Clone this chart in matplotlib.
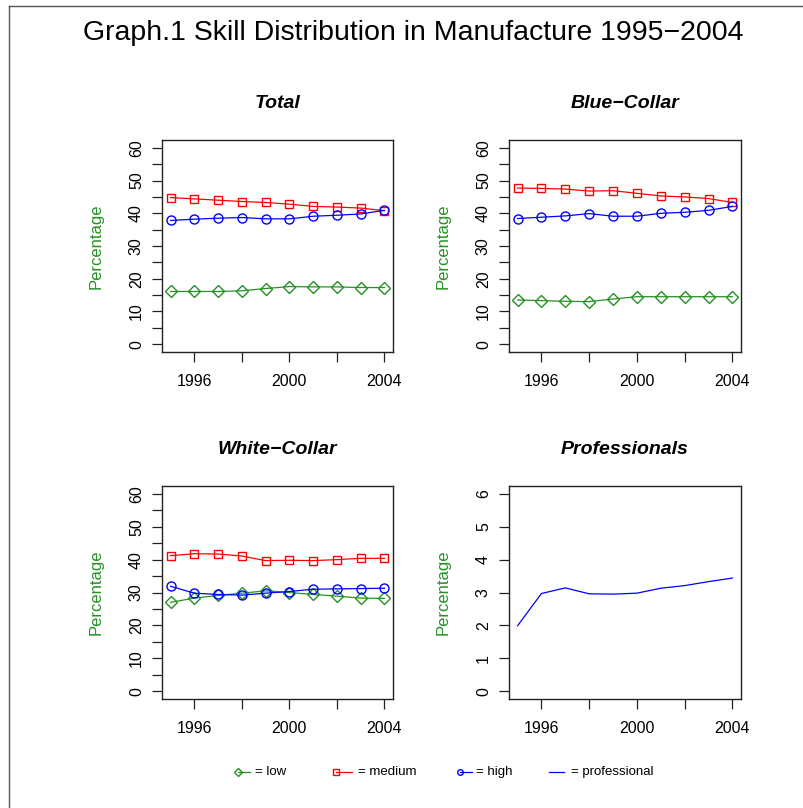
import matplotlib
matplotlib.use("Agg")
import matplotlib.pyplot as plt
from matplotlib.lines import Line2D

plt.rcParams['font.family'] = ['Liberation Sans', 'DejaVu Sans']

years = [1995, 1996, 1997, 1998, 1999, 2000, 2001, 2002, 2003, 2004]

total_low = [16.1, 16.1, 16.1, 16.3, 17.0, 17.6, 17.5, 17.5, 17.3, 17.3]
total_medium = [44.8, 44.4, 44.0, 43.6, 43.3, 42.8, 42.1, 41.9, 41.6, 40.8]
total_high = [37.8, 38.2, 38.5, 38.7, 38.3, 38.3, 39.1, 39.4, 39.8, 40.9]

blue_low = [13.5, 13.3, 13.1, 13.0, 13.8, 14.5, 14.5, 14.5, 14.5, 14.5]
blue_medium = [47.7, 47.6, 47.4, 46.8, 46.9, 46.1, 45.3, 45.0, 44.5, 43.3]
blue_high = [38.4, 38.8, 39.2, 39.9, 39.1, 39.1, 40.0, 40.3, 40.9, 42.1]

white_low = [27.0, 28.3, 29.1, 29.8, 30.5, 30.0, 29.4, 28.9, 28.3, 28.2]
white_medium = [41.2, 41.8, 41.7, 41.1, 39.7, 39.8, 39.7, 40.0, 40.4, 40.4]
white_high = [31.9, 29.8, 29.4, 29.2, 29.8, 30.3, 31.0, 31.1, 31.2, 31.3]

professional = [1.99, 2.97, 3.14, 2.96, 2.95, 2.98, 3.13, 3.21, 3.33, 3.44]

panel_titles = ["Total", "Blue\u2212Collar", "White\u2212Collar", "Professionals"]
title = "Graph.1 Skill Distribution in Manufacture 1995\u22122004"
legend_labels = ["= low", "= medium", "= high", "= professional"]

GREEN = "#259125"
RED = "#FF0000"
BLUE = "#0000FF"

W, H = 804, 808
fig = plt.figure(figsize=(W / 100, H / 100), dpi=100)


def frac_box(left, top, right, bottom):
    return [left / W, 1 - bottom / H, (right - left) / W, (bottom - top) / H]


boxes = [
    frac_box(162, 140, 393, 352),
    frac_box(509, 140, 741, 352),
    frac_box(162, 486, 393, 699),
    frac_box(509, 486, 741, 699),
]

series_sets = [
    (total_low, total_medium, total_high),
    (blue_low, blue_medium, blue_high),
    (white_low, white_medium, white_high),
    None,
]


def style_axes(ax, ymax, ystep_major, ystep_minor):
    x0, x1 = years[0], years[-1]
    pad = (x1 - x0) * 0.04
    ax.set_xlim(x0 - pad, x1 + pad)
    ypad = ymax * 0.04
    ax.set_ylim(-ypad, ymax + ypad)
    ax.set_xticks([1996, 2000, 2004])
    ax.set_xticks([1998, 2002], minor=True)
    major = list(range(0, ymax + 1, ystep_major))
    ax.set_yticks(major)
    if ystep_minor:
        ax.set_yticks([v for v in range(0, ymax + 1, ystep_minor) if v not in major], minor=True)
    ax.tick_params(axis='both', which='both', direction='out', length=7, width=0.9,
                   labelsize=11.5, color='#222222')
    ax.tick_params(axis='x', which='both', pad=9)
    ax.tick_params(axis='y', which='both', pad=6)
    for lab in ax.get_yticklabels():
        lab.set_rotation(90)
        lab.set_va('center')
    for s in ax.spines.values():
        s.set_linewidth(1.0)
        s.set_color('#222222')
    ax.set_ylabel("Percentage", color=GREEN, fontsize=12)
    ax.yaxis.set_label_coords(-0.252, 0.5)


for i, box in enumerate(boxes):
    ax = fig.add_axes(box)
    series = series_sets[i]
    if series is not None:
        low, medium, high = series
        ax.plot(years, low, color=GREEN, lw=0.9, marker='D', ms=6.5,
                mfc='none', mec=GREEN, mew=1.0)
        ax.plot(years, medium, color=RED, lw=0.9, marker='s', ms=6.0,
                mfc='none', mec=RED, mew=1.0)
        ax.plot(years, high, color=BLUE, lw=0.9, marker='o', ms=6.5,
                mfc='none', mec=BLUE, mew=1.0)
        style_axes(ax, 60, 10, 5)
    else:
        ax.plot(years, professional, color=BLUE, lw=0.9)
        style_axes(ax, 6, 1, 0)
    ax.set_title(panel_titles[i], fontsize=14, fontweight='bold', style='italic', pad=23)

fig.text(413 / W, 1 - 33 / H, title, ha='center', va='center', fontsize=20.5)

# legend row along the bottom
ly = 1 - 772 / H
legend_items = [
    (238, 250, GREEN, 'D', 4.5, 255),
    (336, 352, RED, 's', 4.0, 358),
    (460, 472, BLUE, 'o', 4.0, 476),
    (549, 564, BLUE, None, 0, 571),
]
for (mx, lx, col, mk, ms, tx), lab in zip(legend_items, legend_labels):
    fig.add_artist(Line2D([mx / W, lx / W], [ly, ly], color=col, lw=0.9,
                          transform=fig.transFigure))
    if mk:
        fig.add_artist(Line2D([mx / W], [ly], color=col, marker=mk, ms=ms, mfc='none',
                              mec=col, mew=1.0, lw=0, transform=fig.transFigure))
    fig.text(tx / W, ly, lab, ha='left', va='center', fontsize=9.5)

# outer frame lines on the top and left edges
fig.add_artist(Line2D([9 / W, 1.0], [1 - 6 / H, 1 - 6 / H], color='#555555', lw=1.0,
                      transform=fig.transFigure))
fig.add_artist(Line2D([9 / W, 9 / W], [0.0, 1 - 6 / H], color='#555555', lw=1.0,
                      transform=fig.transFigure))

fig.savefig("out.png", dpi=100)
